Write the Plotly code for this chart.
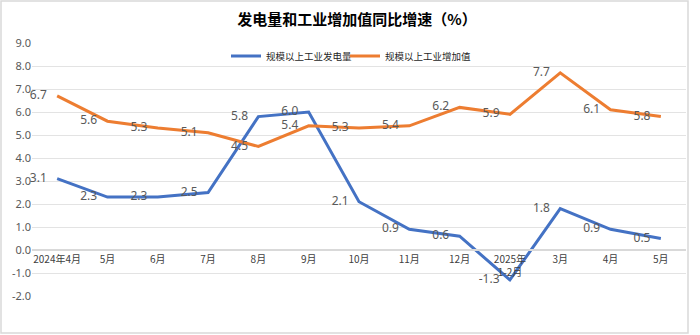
import plotly.graph_objects as go

categories = ["2024年4月", "5月", "6月", "7月", "8月", "9月", "10月", "11月", "12月",
              "2025年<br>1-2月", "3月", "4月", "5月"]
power = [3.1, 2.3, 2.3, 2.5, 5.8, 6.0, 2.1, 0.9, 0.6, -1.3, 1.8, 0.9, 0.5]
value_added = [6.7, 5.6, 5.3, 5.1, 4.5, 5.4, 5.3, 5.4, 6.2, 5.9, 7.7, 6.1, 5.8]
y_ticks = [-2, -1, 0, 1, 2, 3, 4, 5, 6, 7, 8, 9]

W, H = 700, 335
L, R, T, B = 32, 14, 43, 39
pw, ph = W - L - R, H - T - B

def px_x(x):
    return (x - L) / pw

def px_y(y):
    return (H - B - y) / ph

xs = list(range(len(categories)))
label_font = dict(family="Noto Sans, Noto Sans CJK SC", size=12, color="#595959")
series = [("规模以上工业发电量", power, "#4472C4", "legend", 226),
          ("规模以上工业增加值", value_added, "#ED7D31", "legend2", 345)]

fig = go.Figure()
for name, vals, color, leg, _ in series:
    fig.add_trace(go.Scatter(
        x=xs, y=vals, name=name, mode="lines", legend=leg,
        line=dict(color=color, width=3),
    ))
for name, vals, color, _, _ in series:
    fig.add_trace(go.Scatter(
        x=xs, y=vals, name=name, showlegend=False, hoverinfo="skip",
        mode="markers+text", text=[f"{v:.1f}" for v in vals],
        textposition="middle left", textfont=label_font,
        marker=dict(size=15, opacity=0, color=color),
        cliponaxis=False,
    ))

legend_style = dict(orientation="h", xanchor="left", y=px_y(56), yanchor="middle",
                    font=dict(family="Noto Sans CJK SC", size=9.5, color="#262626"),
                    bgcolor="rgba(0,0,0,0)", itemwidth=30)

fig.update_layout(
    width=W, height=H,
    margin=dict(l=L, r=R, t=T, b=B),
    paper_bgcolor="white", plot_bgcolor="white",
    title=dict(text="<b>发电量和工业增加值同比增速（%）</b>",
               x=px_x(357), xanchor="center", xref="paper",
               y=1 - 20 / H, yanchor="middle",
               font=dict(family="Noto Sans CJK SC", size=15, color="#000000")),
    legend=dict(x=px_x(series[0][4]), **legend_style),
    legend2=dict(x=px_x(series[1][4]), **legend_style),
    showlegend=True,
    shapes=[dict(type="rect", xref="paper", yref="paper",
                 x0=px_x(1), x1=px_x(688), y0=px_y(333), y1=px_y(1),
                 line=dict(color="#D9D9D9", width=1.5), layer="below")],
)
fig.update_xaxes(
    range=[-0.5, len(categories) - 0.5],
    tickvals=xs, ticktext=categories,
    anchor="free", position=2 / 11,
    showline=True, linecolor="#D9D9D9", linewidth=2,
    showgrid=False, zeroline=False, ticks="",
    tickfont=dict(family="Noto Sans CJK SC", size=10, color="#404040"),
)
fig.update_yaxes(
    range=[-2, 9], tickvals=y_ticks, ticktext=[f"{v:.1f}" for v in y_ticks],
    showgrid=True, gridcolor="#E3E3E3", gridwidth=1,
    zeroline=False, showline=False, ticks="",
    tickfont=dict(family="Noto Sans", size=11, color="#595959"),
)
fig.write_html("out.html")
